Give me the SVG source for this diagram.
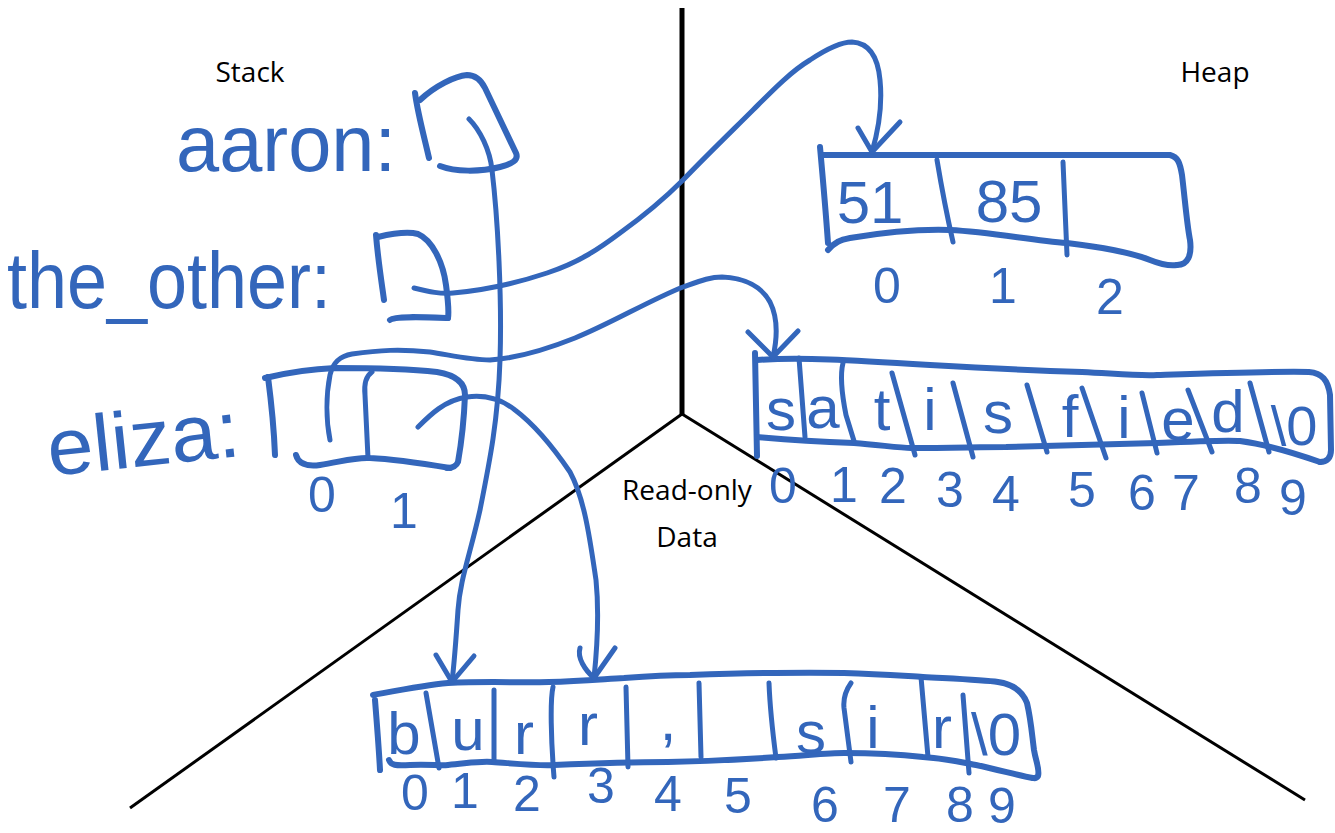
<svg xmlns="http://www.w3.org/2000/svg" width="1335" height="833" viewBox="0 0 1335 833">
  <style>
    .ink { fill: none; stroke: #3366bb; stroke-linecap: round; stroke-linejoin: round; }
    .box { stroke-width: 6; }
    .div { stroke-width: 5; }
    .wire { stroke-width: 5; }
    .hand { fill: #3366bb; font-family: "Liberation Sans", Arial, sans-serif; }
    .lab { font-size: 80px; }
    .cell { font-size: 60px; text-anchor: middle; }
    .idx { font-size: 50px; text-anchor: middle; }
    .region { fill: #000; font-family: "Open Sans", "Liberation Sans", sans-serif; font-size: 28px; text-anchor: middle; }
  </style>

  <rect width="1335" height="833" fill="#fff"/>

  <!-- memory region boundaries -->
  <g id="regions" stroke="#000" stroke-linecap="butt" fill="none">
    <line x1="682" y1="8" x2="682" y2="415" stroke-width="5"/>
    <line x1="682" y1="414" x2="130" y2="808" stroke-width="3"/>
    <line x1="682" y1="414" x2="1305" y2="800" stroke-width="3"/>
  </g>

  <g id="region-labels" class="region">
    <text x="250" y="82">Stack</text>
    <text x="1215" y="82">Heap</text>
    <text x="687" y="500">Read-only</text>
    <text x="687" y="547">Data</text>
  </g>

  <!-- stack variables -->
  <g id="stack-aaron">
    <text class="hand lab" x="176" y="171" textLength="220" lengthAdjust="spacingAndGlyphs">aaron:</text>
    <path class="ink box" d="M415,93 C418,115 425,140 429,158"/>
    <path class="ink box" d="M420,100 C435,86 455,76 467,75 C476,75 481,80 485,88 L516,153 C519,160 512,164 500,167 C480,172 455,172 440,166"/>
  </g>

  <g id="stack-the-other">
    <text class="hand lab" x="7" y="308" textLength="324" lengthAdjust="spacingAndGlyphs">the_other:</text>
    <path class="ink box" d="M376,235 C378,260 382,285 384,300"/>
    <path class="ink box" d="M378,237 C395,233 410,232 418,234 C432,240 443,262 446,285 C448,300 449,312 448,318"/>
    <path class="ink box" d="M390,320 C395,316 420,317 448,318"/>
  </g>

  <g id="stack-eliza">
    <text class="hand lab" x="50" y="476" textLength="193" lengthAdjust="spacingAndGlyphs" transform="rotate(-6 50 476)">eliza:</text>
    <path class="ink box" d="M268,377 C271,400 274,430 275,455"/>
    <path class="ink box" d="M265,378 C290,372 310,369 335,368 C370,368 410,369 437,372 C455,375 465,382 465,395 C464,420 461,445 458,462 C456,467 452,468 447,468"/>
    <path class="ink box" d="M296,455 C298,463 306,467 320,465 C340,462 355,457 370,458 C395,459 420,463 450,468"/>
    <path class="ink div" d="M372,372 C366,376 364,385 365,395 L368,458"/>
    <text class="hand idx" x="322" y="512" font-size="46">0</text>
    <text class="hand idx" x="404" y="528" font-size="46">1</text>
  </g>

  <!-- heap: int array -->
  <g id="heap-ints">
    <path class="ink box" d="M820,147 C823,180 826,215 828,243"/>
    <path class="ink box" d="M823,155 L1170,155 C1178,157 1180,163 1182,175 C1185,200 1187,225 1190,240 C1192,255 1188,265 1177,265"/>
    <path class="ink box" d="M828,250 C835,242 840,240 850,238 C880,233 920,229 950,230 C990,232 1030,240 1067,243 C1100,247 1130,252 1150,260 C1160,264 1170,266 1177,265"/>
    <path class="ink div" d="M937,160 C942,190 948,220 953,242"/>
    <path class="ink div" d="M1063,162 L1067,255"/>
    <text class="hand cell" x="870" y="223" font-size="70">51</text>
    <text class="hand cell" x="1009" y="222" font-size="70">85</text>
    <text class="hand idx" x="887" y="303" font-size="48">0</text>
    <text class="hand idx" x="1003" y="303" font-size="48">1</text>
    <text class="hand idx" x="1110" y="314" font-size="48">2</text>
  </g>

  <!-- heap: char array -->
  <g id="heap-chars">
    <path class="ink box" d="M755,353 L757,456"/>
    <path class="ink box" d="M757,360 C800,357 850,360 930,365 C1000,369 1050,371 1082,372 C1120,374 1140,376 1157,375 C1220,373 1280,371 1309,372 C1322,373 1328,380 1330,395 L1331,450 C1331,458 1327,462 1320,462"/>
    <path class="ink box" d="M757,437 C780,439 800,441 854,443 C880,445 900,448 911,448 C950,448 980,447 1006,447 C1050,446 1080,445 1157,443 C1200,441 1230,440 1240,441 C1270,445 1300,455 1320,462"/>
    <g class="ink div">
      <path d="M799,358 L805,437"/>
      <path d="M843,363 C840,375 842,395 846,415 L854,441"/>
      <path d="M892,373 L915,455"/>
      <path d="M953,383 L973,457"/>
      <path d="M1027,385 L1047,452"/>
      <path d="M1082,388 L1106,458"/>
      <path d="M1142,393 L1157,453"/>
      <path d="M1188,390 L1212,452"/>
      <path d="M1250,383 L1269,452"/>
    </g>
    <g class="hand cell" font-size="58">
      <text x="781" y="430">s</text>
      <text x="823" y="428">a</text>
      <text x="882" y="430">t</text>
      <text x="930" y="430">i</text>
      <text x="998" y="433">s</text>
      <text x="1070" y="437">f</text>
      <text x="1124" y="438">i</text>
      <text x="1178" y="440">e</text>
      <text x="1228" y="432">d</text>
      <text x="1294" y="445" font-size="56">\0</text>
    </g>
    <g class="hand idx" font-size="50">
      <text x="783" y="503">0</text>
      <text x="844" y="502">1</text>
      <text x="893" y="503">2</text>
      <text x="950" y="507">3</text>
      <text x="1006" y="511">4</text>
      <text x="1082" y="507">5</text>
      <text x="1142" y="510">6</text>
      <text x="1186" y="510">7</text>
      <text x="1248" y="503">8</text>
      <text x="1293" y="515">9</text>
    </g>
  </g>

  <!-- read-only data: string literal -->
  <g id="rodata-chars">
    <path class="ink box" d="M375,700 C377,725 379,750 380,770"/>
    <path class="ink box" d="M373,695 C400,690 425,685 448,683 C490,681 520,683 549,682 C580,681 605,679 624,678 C650,676 670,675 690,675 C750,673 800,672 844,673 C880,674 905,676 923,677 C960,679 985,680 998,682 C1012,684 1022,690 1027,703 C1031,720 1032,735 1034,750 C1036,762 1040,770 1038,776 C1036,779 1034,778 1033,778"/>
    <path class="ink box" d="M389,760 C391,765 395,766 410,765 C430,764 440,766 448,765 C470,763 480,761 492,762 C520,764 540,766 554,765 C600,763 640,762 668,762 C720,761 750,759 778,757 C810,755 830,753 844,753 C880,753 905,755 923,757 C950,759 965,763 976,765 C1000,770 1020,776 1033,778"/>
    <g class="ink div">
      <path d="M426,693 L439,768"/>
      <path d="M494,690 L494,760"/>
      <path d="M553,687 C550,700 551,740 554,777"/>
      <path d="M626,687 L628,767"/>
      <path d="M699,683 L701,757"/>
      <path d="M769,683 C770,710 773,735 776,758"/>
      <path d="M851,683 C846,690 843,698 844,708 L851,762"/>
      <path d="M921,677 L928,757"/>
      <path d="M963,695 L969,773"/>
    </g>
    <g class="hand cell" font-size="54">
      <text x="404" y="754">b</text>
      <text x="468" y="750">u</text>
      <text x="524" y="754">r</text>
      <text x="588" y="745">r</text>
      <text x="668" y="740">,</text>
      <text x="811" y="753">s</text>
      <text x="873" y="748">i</text>
      <text x="942" y="748">r</text>
      <text x="996" y="755">\0</text>
    </g>
    <g class="hand idx" font-size="42">
      <text x="415" y="810">0</text>
      <text x="465" y="808">1</text>
      <text x="527" y="811">2</text>
      <text x="601" y="803">3</text>
      <text x="668" y="811">4</text>
      <text x="738" y="813">5</text>
      <text x="825" y="822">6</text>
      <text x="897" y="822">7</text>
      <text x="960" y="822">8</text>
      <text x="1002" y="823">9</text>
    </g>
  </g>

  <!-- pointers -->
  <g id="connectors" class="ink wire">
    <!-- aaron -> "burr, sir"[1] -->
    <path d="M469,119 C480,130 490,150 492,170 C498,220 502,300 500,360 C498,420 490,460 480,510 C470,555 460,580 458,610 C456,640 454,665 452,682"/>
    <path d="M436,655 L452,682 L474,656"/>
    <!-- the_other -> heap ints -->
    <path d="M414,288 C430,292 440,294 453,293 C490,290 520,282 547,273 C580,262 600,248 620,233 C645,215 665,198 683,180 C710,152 735,128 753,110 C770,93 790,72 810,60 C825,50 840,42 852,42 C870,43 878,58 880,80 C882,100 880,125 872,152"/>
    <path d="M858,128 L872,152 L900,122"/>
    <!-- eliza[0] -> heap chars -->
    <path d="M330,440 C326,420 326,395 330,375 C333,362 340,356 352,354 C380,350 400,349 430,352 C450,355 470,360 490,360 C520,358 550,348 575,338 C610,324 650,300 683,287 C700,281 710,277 722,277 C745,278 762,287 770,302 C777,316 778,335 773,357"/>
    <path d="M748,332 L773,357 L798,331"/>
    <!-- eliza[1] -> "burr, sir"[3] -->
    <path d="M418,427 C430,415 445,400 467,397 C482,395 500,398 515,410 C535,425 555,450 570,472 C585,500 590,540 596,580 C599,610 598,640 594,678"/>
    <path d="M580,648 C577,658 585,670 594,678 L615,648"/>
  </g>
</svg>
